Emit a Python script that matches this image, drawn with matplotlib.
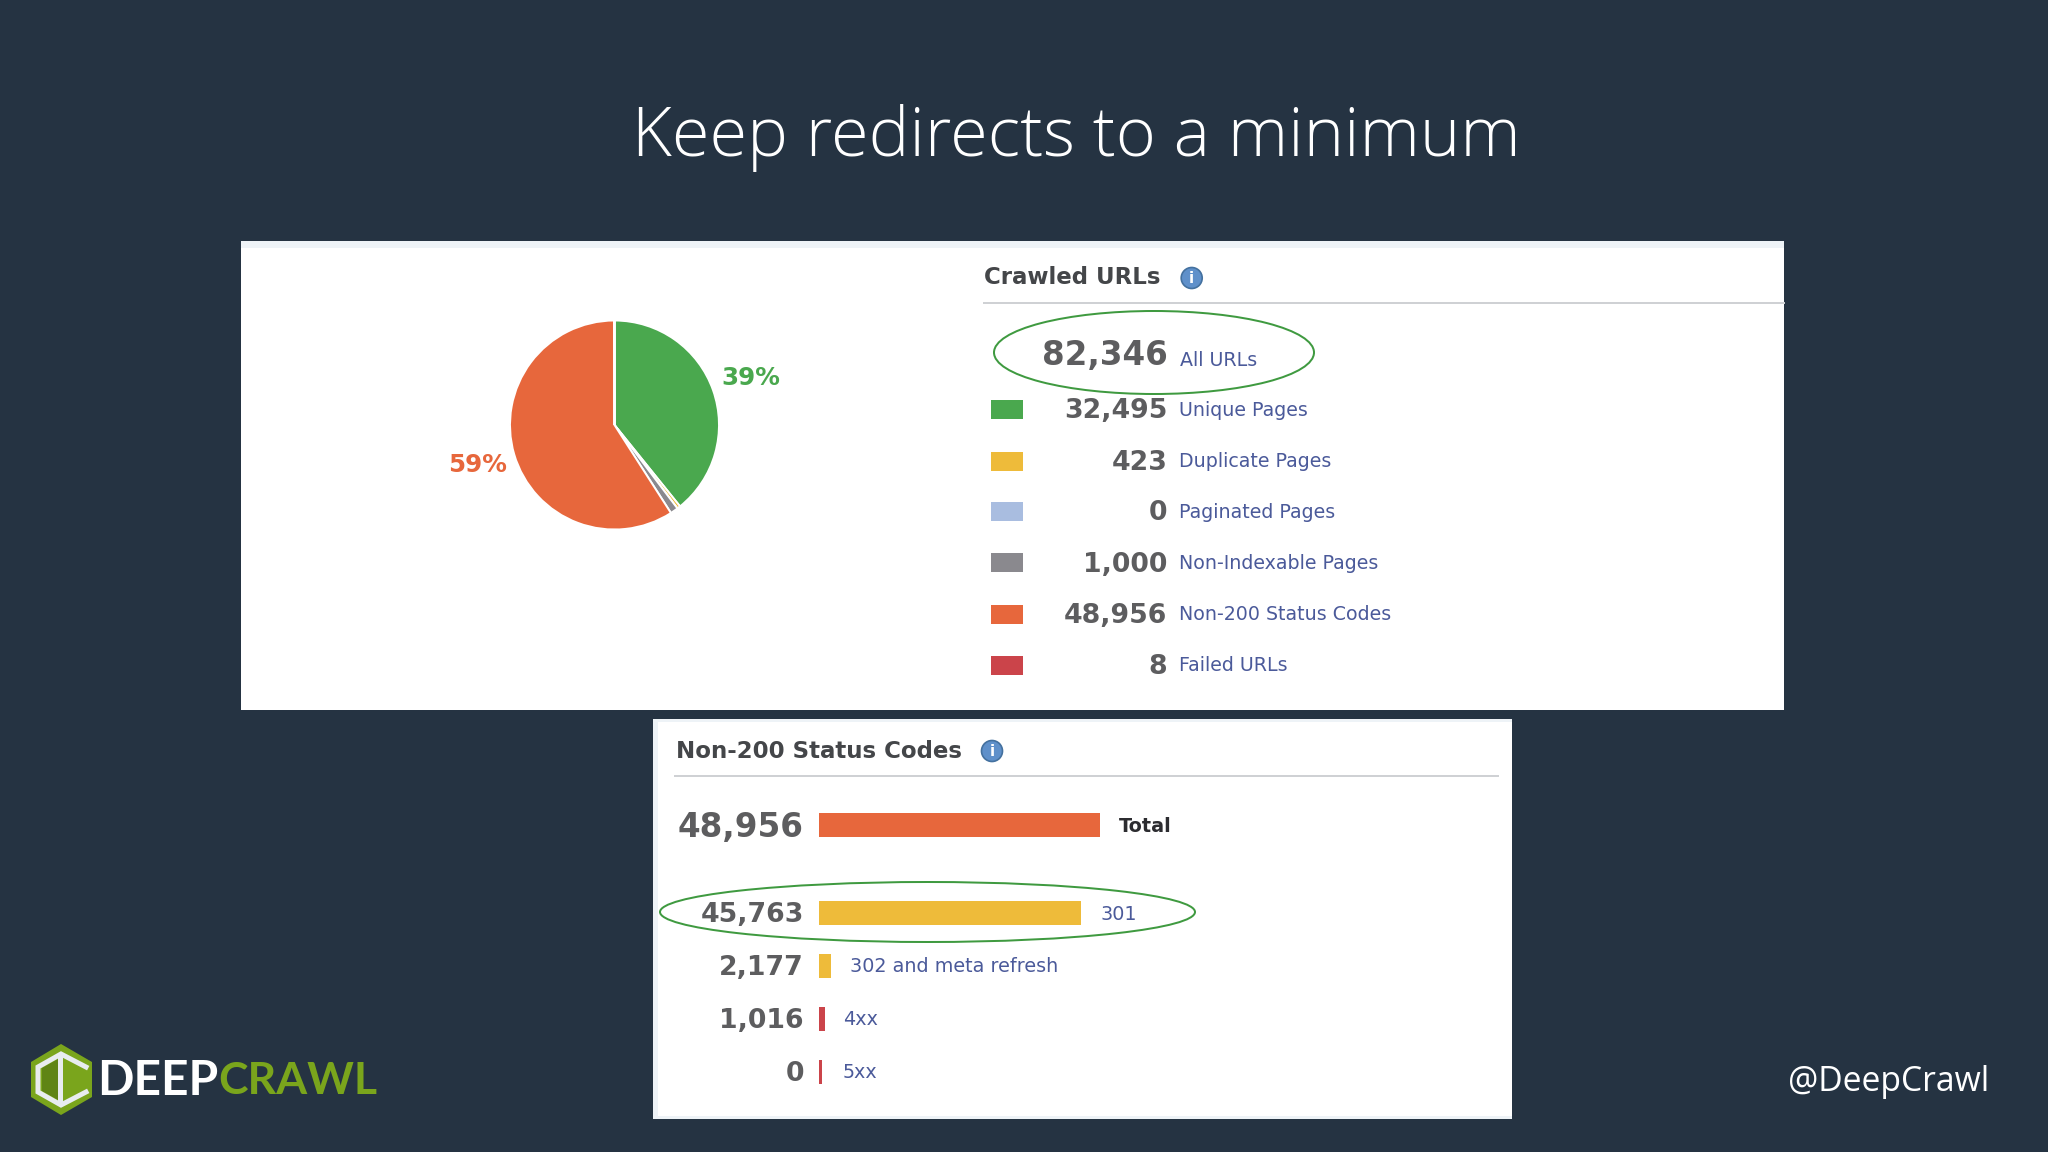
import matplotlib
matplotlib.use("Agg")
import matplotlib.pyplot as plt
from matplotlib.patches import Ellipse, Rectangle, Circle, Polygon

W, H = 2048, 1152
BG = "#253342"

title = "Keep redirects to a minimum"
handle = "@DeepCrawl"

crawl_total = 82346
crawl_labels = ["Unique Pages", "Duplicate Pages", "Paginated Pages",
                "Non-Indexable Pages", "Non-200 Status Codes", "Failed URLs"]
crawl_values = [32495, 423, 0, 1000, 48956, 8]
crawl_colors = ["#4aa84e", "#eebb3a", "#a9bde0", "#8a898e", "#e7673c", "#cb444a"]

status_labels = ["Total", "301", "302 and meta refresh", "4xx", "5xx"]
status_values = [48956, 45763, 2177, 1016, 0]
status_colors = ["#e7673c", "#eebb3a", "#eebb3a", "#cb444a", "#cb444a"]

fig = plt.figure(figsize=(W / 100, H / 100), dpi=100, facecolor=BG)
pt = 72 / 100


def rect_axes(x0, y0, x1, y1, **kw):
    return fig.add_axes([x0 / W, 1 - y1 / H, (x1 - x0) / W, (y1 - y0) / H], **kw)


base = rect_axes(0, 0, W, H, zorder=0)
base.set_xlim(0, W)
base.set_ylim(H, 0)
base.axis("off")

LIGHT = "#eef3f7"
GREY_LINE = "#cfd1d4"
VALUE = "#5d5d5f"
HEAD = "#444649"
LINK = "#4b5a9a"
ELL = "#3f9a40"


def box(x0, y0, x1, y1, c, z=1):
    base.add_patch(Rectangle((x0, y0), x1 - x0, y1 - y0, fc=c, ec="none", zorder=z))


def info(x, y):
    base.add_patch(Circle((x, y), 10.5, fc="#5f90ca", ec="#44719f", lw=1.2, zorder=4))
    base.text(x, y + 0.5, "i", color="white", fontsize=11, fontweight="bold",
              ha="center", va="center", zorder=5)


# panels
box(241, 241, 1784, 710, "white")
box(241, 241, 1784, 248, LIGHT, 2)
box(653, 719, 1512, 1119, "white")
box(653, 719, 658, 1119, LIGHT, 2)
box(653, 719, 1512, 722, LIGHT, 2)
box(653, 1116, 1512, 1119, LIGHT, 2)

# title and handle
base.text(1076, 138, title, color="white", fontsize=49.3, family="Open Sans",
          fontweight="light", ha="center", va="center", zorder=3)
base.text(1889, 1082, handle, color="white", fontsize=24.3, family="Open Sans",
          ha="center", va="center", zorder=3)

# pie
R = 104.5
cx, cy = 614.5, 425
pie_ax = rect_axes(cx - R, cy - R, cx + R, cy + R, zorder=1)
pie_ax.pie(crawl_values, colors=crawl_colors, startangle=90, counterclock=False,
           radius=1, wedgeprops=dict(edgecolor="white", linewidth=1.4))
pie_ax.set_xlim(-1, 1)
pie_ax.set_ylim(-1, 1)
pie_ax.patch.set_alpha(0)

base.text(750.5, 378, f"{crawl_values[0] / crawl_total:.0%}", color=crawl_colors[0],
          fontsize=17.7, fontweight="bold", ha="center", va="center", zorder=3)
base.text(477.5, 465, f"{crawl_values[4] / crawl_total:.0%}", color=crawl_colors[4],
          fontsize=17.7, fontweight="bold", ha="center", va="center", zorder=3)

# crawled header
base.text(984, 278, "Crawled URLs", color=HEAD, fontsize=16.5, fontweight="bold",
          va="center", zorder=3)
info(1191.7, 278)
base.plot([984, 1784], [303, 303], color=GREY_LINE, lw=2 * pt, zorder=3)

# crawled total
base.text(1167.5, 356, f"{crawl_total:,}", color=VALUE, fontsize=23.5,
          fontweight="bold", ha="right", va="center", zorder=3)
base.text(1179.7, 360, "All URLs", color=LINK, fontsize=13.7, va="center", zorder=3)
base.add_patch(Ellipse((1154, 352.5), 320, 83, fc="none", ec=ELL, lw=2 * pt, zorder=3))

# crawled legend
row_y = [409.5, 461, 511.5, 562.8, 614, 665]
for y, lab, val, col in zip(row_y, crawl_labels, crawl_values, crawl_colors):
    box(991, y - 9.5, 1023.3, y + 9.5, col, 3)
    base.text(1167.5, y + 2, f"{val:,}", color=VALUE, fontsize=19.3, fontweight="bold",
              ha="right", va="center", zorder=3)
    base.text(1179, y + 0.5, lab, color=LINK, fontsize=13.7, va="center", zorder=3)

# status panel
base.text(675.5, 751, "Non-200 Status Codes", color=HEAD, fontsize=16.5, fontweight="bold",
          va="center", zorder=3)
info(992, 751)
base.plot([675, 1498], [776, 776], color=GREY_LINE, lw=2 * pt, zorder=3)

bar_x0, bar_x1 = 819, 1099.6
bar_y = [825.3, 913, 966, 1018.7, 1071.7]
bar_ax = rect_axes(bar_x0, 0, bar_x1, H, zorder=1)
bar_ax.set_xlim(0, status_values[0])
bar_ax.set_ylim(H, 0)
bar_ax.axis("off")
min_bar = 500  # zero still gets a sliver, as in the dashboard
bar_ax.barh(bar_y, [max(v, min_bar) for v in status_values], height=24,
            color=status_colors, left=0)

label_x = [1118.4, 1100, 850, 843, 842.5]
for i, (y, lab, val, lx) in enumerate(zip(bar_y, status_labels, status_values, label_x)):
    big = i == 0
    base.text(804, y + 2, f"{val:,}", color=VALUE, fontsize=23.5 if big else 19.3,
              fontweight="bold", ha="right", va="center", zorder=3)
    base.text(lx, y + 1, lab, color="#2c2c30" if big else LINK, fontsize=13.8,
              fontweight="bold" if big else "normal", va="center", zorder=3)
base.add_patch(Ellipse((927.5, 912), 535, 60, fc="none", ec=ELL, lw=2 * pt, zorder=3))

# logo
G = "#7aa51c"
DG = "#5f8415"
hexa = [(61, 1044), (92, 1062), (92, 1097), (61, 1115), (31, 1097), (31, 1062)]
base.add_patch(Polygon(hexa, fc=G, ec="none", zorder=3))
base.add_patch(Polygon([(42, 1068), (58, 1059), (58, 1100), (42, 1091)], fc=DG, ec="none", zorder=4))
base.plot([86, 61, 38, 38, 61, 86], [1067, 1054, 1067, 1092, 1105, 1092],
          color="#e8ecef", lw=5 * pt, solid_joinstyle="miter", zorder=5)
base.plot([60, 60], [1056, 1103], color="#e8ecef", lw=5 * pt, zorder=5)
base.text(97, 1081, "DEEP", color="white", fontsize=34.5, family="Lato", fontweight="bold",
          ha="left", va="center", zorder=3)
base.text(218, 1081, "CRAWL", color=G, fontsize=32, family="Lato", fontweight="bold",
          ha="left", va="center", zorder=3)

fig.savefig("out.png", dpi=100, facecolor=BG)
